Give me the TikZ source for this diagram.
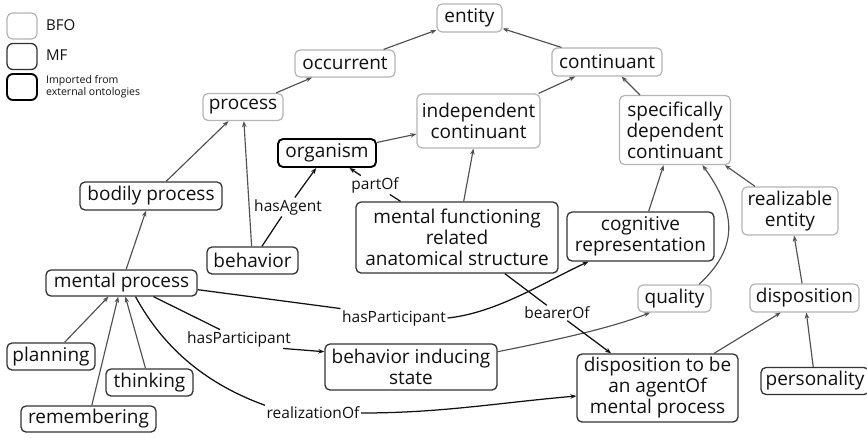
\documentclass[tikz,border=0pt]{standalone}
\usepackage{fontspec}
\setmainfont{Open Sans}
\usetikzlibrary{arrows.meta,calc}
\definecolor{bfoc}{HTML}{B4B4B4}
\definecolor{mfc}{HTML}{333333}
\definecolor{txt}{HTML}{111111}
\definecolor{edgeg}{HTML}{505050}
\definecolor{edgek}{HTML}{111111}
\begin{document}
\begin{tikzpicture}[x=1pt,y=-1pt,
  box/.style={rounded corners=5pt, inner sep=0pt, align=center, text=txt, fill=white,
    font=\fontsize{19}{21}\selectfont},
  bfo/.style={box, draw=bfoc, line width=1.2pt},
  mf/.style={box, draw=mfc, line width=1.3pt},
  imp/.style={box, draw=black, line width=1.9pt},
  sz/.style 2 args={minimum width=#1pt, minimum height=#2pt},
  lbl/.style={font=\fontsize{15.5}{17}\selectfont, text=txt, inner sep=1.5pt},
  isa/.style={-{Stealth[length=6pt,width=4.5pt]}, draw=edgeg, line width=1.15pt},
  rel/.style={-{Stealth[length=6pt,width=4.5pt]}, draw=edgek, line width=1.25pt},
  plainrel/.style={draw=edgek, line width=1.25pt},
  legbox/.style={rounded corners=6pt, minimum width=30pt, minimum height=26pt, inner sep=0pt},
  legtxt/.style={anchor=west, text=txt, inner sep=0pt, align=left}
]
\useasboundingbox (0,0) rectangle (867,437);

% legend
\node[legbox, draw=bfoc, line width=1.2pt] (lb1) at (22,26) {};
\node[legbox, draw=mfc, line width=1.3pt] (lb2) at (22,56.5) {};
\node[legbox, draw=black, line width=1.9pt] (lb3) at (22,87) {};
\node[legtxt, font=\fontsize{15}{17}\selectfont] (lt1) at (46,25.5) {BFO};
\node[legtxt, font=\fontsize{15}{17}\selectfont] (lt2) at (46,55.5) {MF};
\node[legtxt, font=\fontsize{10.5}{12}\selectfont] (lt3) at (46,87) {Imported from\\external ontologies};

% nodes
\node[bfo, sz={65}{28}] (entity) at (469.5,18) {entity};
\node[bfo, sz={100}{27}] (occurrent) at (345,63.5) {occurrent};
\node[bfo, sz={110}{28}] (continuant) at (607,62) {continuant};
\node[bfo, sz={80}{27}] (process) at (243,107) {process};
\node[bfo, sz={123}{54}] (indep) at (478.5,121) {independent\\continuant};
\node[bfo, sz={111}{69}] (sdc) at (675,130) {specifically\\dependent\\continuant};
\node[imp, sz={98}{28}] (organism) at (327,153) {organism};
\node[mf, sz={142}{28}] (bodily) at (151,196) {bodily process};
\node[bfo, sz={96}{48}] (realizable) at (790,211) {realizable\\entity};
\node[mf, sz={202}{71}] (mfras) at (457,237.5) {mental functioning\\related\\anatomical structure};
\node[mf, sz={147}{49}] (cog) at (640.5,236.5) {cognitive\\representation};
\node[mf, sz={91}{27}] (behavior) at (252.5,260.5) {behavior};
\node[mf, sz={151}{26}] (mp) at (121.5,283) {mental process};
\node[bfo, sz={73}{27}] (quality) at (674.5,298.5) {quality};
\node[bfo, sz={109}{28}] (disposition) at (804.5,298) {disposition};
\node[mf, sz={88}{27}] (planning) at (51,356.5) {planning};
\node[mf, sz={87}{27}] (thinking) at (149.5,382.5) {thinking};
\node[mf, sz={135}{26}] (remembering) at (88.5,419) {remembering};
\node[mf, sz={172}{46}] (bis) at (411,367) {behavior inducing\\state};
\node[mf, sz={161}{68}] (dtb) at (657.5,388) {disposition to be\\an agentOf\\mental process};
\node[mf, sz={108}{27}] (personality) at (815,381) {personality};

% relation labels
\node[lbl] (ha) at (288,207) {hasAgent};
\node[lbl] (po) at (375,185) {partOf};
\node[lbl] (hp1) at (394,318) {hasParticipant};
\node[lbl] (hp2) at (239,339) {hasParticipant};
\node[lbl] (bo) at (557,313) {bearerOf};
\node[lbl] (rl) at (313,413) {realizationOf};

% is-a edges
\draw[isa] (occurrent) -- (entity);
\draw[isa] (continuant) -- (entity);
\draw[isa] (process) -- (occurrent);
\draw[isa] (indep) -- (continuant);
\draw[isa] (sdc) -- (continuant);
\draw[isa] (organism) -- (indep);
\draw[isa] (bodily) -- (process);
\draw[isa] (behavior) -- (process);
\draw[isa] (mfras) -- (indep);
\draw[isa] (cog) -- (sdc);
\draw[isa] (realizable) -- (sdc);
\draw[isa] (disposition) -- (realizable);
\draw[isa] (personality) -- (disposition);
\draw[isa] (dtb) -- (disposition);
\draw[isa] (mp) -- (bodily);
\draw[isa] (planning) -- (mp);
\draw[isa] (remembering) -- (mp);
\draw[isa] (thinking) -- (mp);
\draw[isa] (bis.10) .. controls +(50,-10) and +(-40,16) .. (quality.210);
\draw[isa] (quality.30) .. controls +(38,-35) and +(36,50) .. (sdc.-52);

% relations
\draw[plainrel] (behavior) -- (ha);
\draw[rel] (ha) -- (organism);
\draw[plainrel] (mfras) -- (po);
\draw[rel] (po) -- (organism);
\draw[plainrel] (mfras) -- (bo);
\draw[rel] (bo) -- (dtb);
\draw[plainrel] (mp.-5) -- (hp1.north west);
\draw[rel] (hp1.east) .. controls +(50,-5) and +(-40,18) .. ([xshift=-52pt]cog.south);
\draw[plainrel] ([xshift=32pt]mp.south) -- ([xshift=-19pt]hp2.north);
\draw[rel] ([xshift=44pt]hp2.south) -- (bis.170);
\draw[plainrel] ([xshift=14pt]mp.south) .. controls +(30,55) and +(-55,-20) .. (rl.north west);
\draw[rel] (rl.east) .. controls +(80,0) and +(-80,7) .. ([yshift=-8pt]dtb.west);
\end{tikzpicture}
\end{document}
